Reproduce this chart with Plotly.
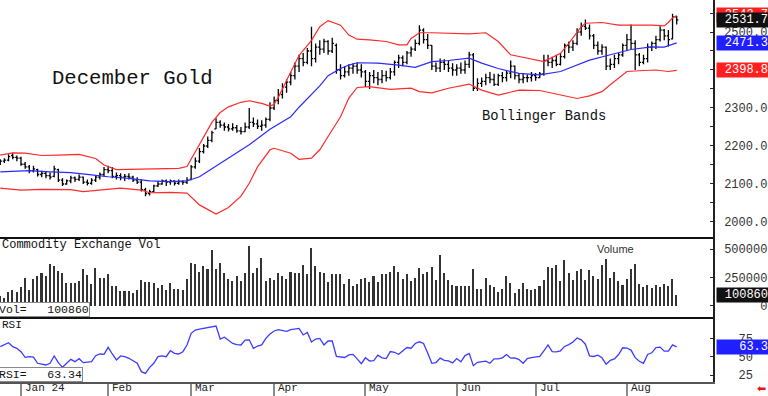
import pandas as pd
import plotly.graph_objects as go
from plotly.subplots import make_subplots

# ---------------- data ----------------
holidays = ["2023-12-25", "2024-01-01", "2024-01-15", "2024-02-19",
            "2024-03-29", "2024-05-27", "2024-06-19", "2024-07-04"]
start_date = "2023-12-22"
end_date = "2024-08-19"

month_names = {1: "Jan 24", 2: "Feb", 3: "Mar", 4: "Apr", 5: "May",
               6: "Jun", 7: "Jul", 8: "Aug"}

opens = [2155, 2160, 2163, 2175, 2170, 2168, 2152, 2145, 2135, 2138,
         2125, 2128, 2122, 2120, 2138, 2110, 2100, 2108, 2116, 2112,
         2118, 2105, 2102, 2110, 2118, 2125, 2138, 2135, 2120, 2122,
         2118, 2120, 2118, 2110, 2105, 2085, 2075, 2080, 2095, 2100,
         2108, 2105, 2108, 2102, 2106, 2104, 2112, 2145, 2160, 2185,
         2200, 2215, 2245, 2262, 2255, 2250, 2245, 2248, 2240, 2238,
         2250, 2262, 2258, 2252, 2255, 2270, 2300, 2320, 2335, 2355,
         2368, 2385, 2410, 2430, 2420, 2450, 2430, 2460, 2455, 2475,
         2450, 2465, 2400, 2385, 2395, 2405, 2410, 2400, 2395, 2370,
         2385, 2380, 2375, 2385, 2380, 2395, 2420, 2432, 2420, 2445,
         2455, 2470, 2505, 2480, 2465, 2410, 2405, 2420, 2415, 2405,
         2400, 2405, 2400, 2415, 2440, 2352, 2365, 2370, 2380, 2375,
         2362, 2385, 2380, 2392, 2410, 2385, 2375, 2380, 2380, 2385,
         2380, 2390, 2425, 2420, 2425, 2415, 2435, 2465, 2460, 2470,
         2500, 2515, 2510, 2490, 2465, 2450, 2460, 2410, 2415, 2430,
         2440, 2465, 2480, 2470, 2440, 2420, 2430, 2460, 2470, 2480,
         2505, 2490, 2482, 2540]
highs = [2165, 2168, 2178, 2182, 2175, 2172, 2158, 2150, 2148, 2140,
         2135, 2132, 2130, 2148, 2140, 2115, 2112, 2122, 2120, 2125,
         2120, 2112, 2115, 2122, 2130, 2145, 2148, 2145, 2130, 2128,
         2126, 2128, 2122, 2118, 2112, 2090, 2085, 2098, 2108, 2112,
         2112, 2112, 2110, 2112, 2110, 2118, 2150, 2170, 2195, 2205,
         2225, 2240, 2273, 2268, 2262, 2258, 2260, 2255, 2250, 2262,
         2300, 2275, 2270, 2268, 2275, 2315, 2330, 2350, 2365, 2375,
         2395, 2420, 2440, 2445, 2458, 2514, 2470, 2478, 2482, 2478,
         2485, 2470, 2415, 2410, 2415, 2418, 2420, 2415, 2400, 2395,
         2400, 2395, 2400, 2398, 2405, 2425, 2440, 2438, 2450, 2462,
         2480, 2518, 2510, 2495, 2465, 2420, 2430, 2428, 2425, 2418,
         2415, 2420, 2425, 2448, 2445, 2378, 2380, 2390, 2395, 2390,
         2390, 2395, 2400, 2425, 2412, 2392, 2390, 2388, 2395, 2392,
         2395, 2440, 2440, 2435, 2440, 2445, 2470, 2475, 2478, 2510,
         2525, 2533, 2520, 2495, 2475, 2468, 2462, 2430, 2440, 2445,
         2470, 2495, 2520, 2478, 2445, 2440, 2470, 2475, 2490, 2515,
         2508, 2505, 2548, 2542]
lows = [2150, 2155, 2160, 2165, 2160, 2148, 2140, 2128, 2130, 2120,
        2118, 2115, 2112, 2118, 2105, 2095, 2098, 2102, 2105, 2108,
        2100, 2096, 2098, 2105, 2112, 2120, 2128, 2115, 2112, 2110,
        2108, 2112, 2105, 2100, 2080, 2068, 2070, 2078, 2092, 2098,
        2095, 2098, 2096, 2098, 2098, 2100, 2110, 2140, 2155, 2180,
        2195, 2210, 2245, 2248, 2240, 2238, 2240, 2235, 2230, 2236,
        2245, 2250, 2245, 2240, 2248, 2265, 2295, 2310, 2325, 2340,
        2360, 2375, 2395, 2410, 2415, 2410, 2420, 2440, 2445, 2440,
        2445, 2390, 2375, 2380, 2385, 2390, 2390, 2380, 2355, 2350,
        2365, 2360, 2365, 2370, 2375, 2385, 2405, 2410, 2415, 2435,
        2450, 2465, 2470, 2455, 2400, 2395, 2395, 2400, 2395, 2385,
        2385, 2390, 2390, 2405, 2345, 2345, 2355, 2360, 2365, 2358,
        2358, 2368, 2370, 2378, 2375, 2365, 2365, 2368, 2370, 2372,
        2378, 2385, 2410, 2405, 2410, 2412, 2430, 2445, 2450, 2465,
        2490, 2505, 2480, 2455, 2440, 2440, 2400, 2400, 2405, 2415,
        2435, 2450, 2455, 2400, 2410, 2415, 2420, 2450, 2455, 2475,
        2478, 2462, 2480, 2520]
closes = [2160, 2163, 2172, 2170, 2168, 2152, 2145, 2135, 2140, 2125,
          2128, 2122, 2118, 2140, 2110, 2100, 2108, 2116, 2112, 2118,
          2105, 2102, 2110, 2118, 2125, 2138, 2135, 2120, 2122, 2118,
          2120, 2118, 2110, 2105, 2085, 2075, 2080, 2095, 2100, 2108,
          2105, 2108, 2102, 2106, 2104, 2110, 2145, 2160, 2185, 2200,
          2215, 2235, 2262, 2255, 2250, 2245, 2248, 2240, 2238, 2250,
          2262, 2258, 2252, 2255, 2270, 2300, 2320, 2335, 2355, 2368,
          2385, 2410, 2430, 2420, 2450, 2430, 2460, 2455, 2475, 2450,
          2470, 2400, 2385, 2395, 2405, 2410, 2400, 2395, 2370, 2385,
          2380, 2375, 2385, 2380, 2395, 2420, 2432, 2420, 2445, 2455,
          2470, 2505, 2480, 2465, 2410, 2405, 2420, 2415, 2405, 2400,
          2405, 2400, 2415, 2440, 2352, 2365, 2370, 2380, 2375, 2362,
          2385, 2380, 2392, 2410, 2385, 2375, 2380, 2380, 2385, 2380,
          2390, 2425, 2420, 2425, 2415, 2435, 2465, 2460, 2470, 2500,
          2515, 2510, 2490, 2465, 2450, 2460, 2410, 2415, 2430, 2440,
          2465, 2480, 2470, 2440, 2420, 2430, 2460, 2470, 2480, 2505,
          2490, 2480, 2540, 2531.7]

# Bollinger bands (20-day), read at sample bars
upper_bar = [0, 3, 6, 10, 14, 19, 23, 25, 28, 34, 43, 45, 46, 48, 51, 53, 55, 58,
             60, 63, 65, 66, 67, 70, 72, 75, 77, 79, 82, 84, 86, 89, 93, 96, 98,
             99, 101, 104, 108, 113, 117, 120, 123, 127, 131, 135, 137, 140, 141,
             145, 149, 152, 157, 160, 161, 162, 163]
upper_val = [2176, 2182, 2181, 2175, 2176, 2178, 2167, 2150, 2138, 2139, 2141,
             2146, 2165, 2205, 2262, 2288, 2303, 2315, 2319, 2312, 2305, 2310,
             2328, 2395, 2438, 2478, 2514, 2530, 2518, 2492, 2481, 2479, 2475,
             2466, 2466, 2483, 2498, 2498, 2496, 2495, 2498, 2475, 2440, 2431,
             2422, 2444, 2470, 2514, 2523, 2525, 2518, 2518, 2518, 2516, 2525,
             2537, 2543.7]
mid_bar = [0, 7, 12, 17, 22, 26, 31, 36, 41, 45, 48, 53, 55, 58, 60, 65, 70, 72,
           77, 79, 82, 84, 86, 91, 96, 100, 104, 108, 113, 116, 120, 125, 130,
           135, 138, 142, 147, 152, 157, 160, 163]
mid_val = [2132, 2135, 2132, 2130, 2124, 2119, 2115, 2108, 2106, 2108, 2119,
           2154, 2170, 2190, 2203, 2244, 2277, 2302, 2358, 2385, 2404, 2413,
           2419, 2418, 2413, 2407, 2422, 2425, 2431, 2418, 2404, 2391, 2387,
           2396, 2409, 2426, 2440, 2454, 2461, 2460, 2471.3]
lower_bar = [0, 5, 10, 17, 20, 24, 29, 34, 36, 41, 45, 48, 52, 55, 58, 60, 62,
             65, 66, 70, 72, 75, 77, 79, 82, 84, 86, 89, 94, 99, 101, 104, 108,
             113, 116, 120, 125, 130, 135, 139, 142, 145, 147, 151, 154, 158,
             161, 163]
lower_val = [2089, 2084, 2086, 2085, 2080, 2084, 2089, 2084, 2077, 2078, 2076,
             2045, 2021, 2038, 2068, 2102, 2145, 2190, 2194, 2181, 2165, 2168,
             2190, 2225, 2277, 2326, 2354, 2356, 2349, 2352, 2343, 2340, 2352,
             2363, 2347, 2334, 2347, 2346, 2334, 2325, 2332, 2343, 2361, 2396,
             2398, 2400, 2396, 2398.8]

volume_k = [90, 70, 126, 140, 126, 164, 243, 140, 234, 263,
            287, 263, 374, 351, 310, 287, 205, 205, 205, 222,
            322, 272, 193, 339, 243, 243, 281, 175, 175, 132,
            132, 135, 117, 140, 228, 213, 213, 205, 155, 184,
            140, 205, 146, 146,
            140, 234, 380, 374, 301, 351, 330, 497, 322, 380,
            295, 234, 217, 263, 217, 287, 526, 290, 333, 427,
            222, 251, 225, 287, 263, 240, 304, 290, 287, 363,
            281, 509, 351, 301, 287, 211, 281, 278, 281, 193,
            234, 175, 193, 240, 243, 211, 260, 211, 281, 284,
            298, 354, 298, 234, 278, 217, 249, 333, 278, 304,
            345, 225, 450, 290, 225, 187, 175, 172, 172, 172,
            322, 146, 146, 249, 187, 170, 123, 152, 260, 199,
            117, 149, 199, 146, 140, 152, 175, 225, 345, 339,
            363, 217, 404, 290, 225, 307, 325, 225, 313, 263,
            240, 363, 418, 249, 298, 217, 187, 234, 330, 368,
            193, 170, 181, 158, 181, 170, 193, 175, 234, 100.86]

rsi = [63.7, 65.9, 69.1, 63.7, 61.4, 56.8, 49.1, 50, 49.5, 41,
       39.6, 38.7, 41, 51, 41.9, 35.5, 41, 46.4, 43.2, 47.3,
       41.9, 42.8, 43.2, 51.4, 53.7, 53.2, 62.8, 53.7, 45.5, 51,
       50, 47.8, 44.6, 41, 29.6, 27.3, 35.5, 41, 50, 51,
       50, 58.2, 54.6, 53.7, 56.8, 65.9, 81.8, 86.4, 87.5, 88.6,
       90, 91, 91.8, 74.1, 76.5, 72.5, 68, 66.5, 66, 72.7,
       73, 61.4, 64.5, 66, 75, 81, 85, 87, 86, 84.5,
       86.8, 87.5, 88.6, 79.6, 83, 70, 74, 75, 66, 71.4,
       71.4, 50.5, 49.5, 48.9, 52.5, 53.2, 47, 40.5, 48.5, 44.1,
       44.5, 52, 48.5, 47.5, 57, 56, 53.2, 57.5, 62.5, 61.5,
       68, 70.3, 68, 55, 41, 42, 48, 45, 44.2, 41.5,
       47.5, 43, 51.5, 54.5, 37.8, 42.3, 43, 44, 41, 47,
       47, 48.5, 53, 48, 48.5, 46, 41, 47.5, 48.7, 50,
       50.3, 58, 66, 57, 56.5, 58, 64, 66.5, 70, 75.5,
       73, 67, 51, 50.3, 52, 48.5, 39.6, 45, 46.9, 53,
       62.2, 61.8, 59, 48.7, 43.8, 41, 53, 55.3, 62.5, 63,
       57.5, 57.6, 66, 63.34]

price_ticks = [2000, 2100, 2200, 2300, 2400, 2500]
volume_ticks = [0, 250000, 500000]
rsi_ticks = [25, 50, 75]

# ---------------- build ----------------
cbd = pd.offsets.CustomBusinessDay(holidays=holidays)
dates = pd.date_range(start_date, end_date, freq=cbd)
n = len(closes)
idx = list(range(n))
volume = [v * 1000 for v in volume_k]

month_start = [i for i in range(1, len(dates)) if dates[i].month != dates[i - 1].month]
month_text = [month_names[dates[i].month] for i in month_start]

MONO = "Liberation Mono"
H_PLOT = 382.0
W_PLOT = 713.0

fig = make_subplots(rows=3, cols=1, shared_xaxes=True, vertical_spacing=0,
                    row_heights=[237, 80, 65])

fig.add_trace(go.Scatter(x=upper_bar, y=upper_val, mode="lines",
                         line=dict(color="#ff2a2a", width=1.2), hoverinfo="skip"), row=1, col=1)
fig.add_trace(go.Scatter(x=lower_bar, y=lower_val, mode="lines",
                         line=dict(color="#ff2a2a", width=1.2), hoverinfo="skip"), row=1, col=1)
fig.add_trace(go.Scatter(x=mid_bar, y=mid_val, mode="lines",
                         line=dict(color="#2a2aff", width=1.2), hoverinfo="skip"), row=1, col=1)
fig.add_trace(go.Ohlc(x=idx, open=opens, high=highs, low=lows, close=closes,
                      increasing=dict(line=dict(color="#000000", width=1.3)),
                      decreasing=dict(line=dict(color="#000000", width=1.3)),
                      tickwidth=0.4, hoverinfo="skip"), row=1, col=1)

fig.add_trace(go.Bar(x=idx, y=volume, marker=dict(color="#333333", line=dict(width=0)),
                     width=0.38, hoverinfo="skip"), row=2, col=1)

fig.add_hline(y=75, line=dict(color="#f6b3b3", width=1), row=3, col=1)
fig.add_hline(y=50, line=dict(color="#d4d4d4", width=2), row=3, col=1)
fig.add_hline(y=25, line=dict(color="#c6c6ff", width=1.5), row=3, col=1)
fig.add_trace(go.Scatter(x=idx, y=rsi, mode="lines",
                         line=dict(color="#3c3cff", width=1.3), hoverinfo="skip"), row=3, col=1)

fig.update_xaxes(range=[-0.06, 171.75], showgrid=False, zeroline=False,
                 showticklabels=False, showline=True, linecolor="#111111",
                 linewidth=2, rangeslider_visible=False, ticks="")
fig.update_xaxes(row=3, col=1, ticks="outside", tickvals=month_start,
                 ticklen=14, tickwidth=2, tickcolor="#8a8a8a", linecolor="#555555")

axis_common = dict(side="right", showgrid=False, zeroline=False, showline=True,
                   linecolor="#222222", linewidth=1.5, ticks="inside", ticklen=3,
                   tickcolor="#222222", ticklabelstandoff=7,
                   tickfont=dict(family=MONO, size=12, color="#333333"))
fig.update_yaxes(row=1, col=1, range=[1960.5, 2584.2], tickvals=price_ticks,
                 ticktext=[f"{v:.1f}" for v in price_ticks],
                 minor=dict(ticks="inside", ticklen=3, dtick=50, tick0=0,
                            tickcolor="#222222"), **axis_common)
fig.update_yaxes(row=2, col=1, range=[-97000, 608000], tickvals=volume_ticks,
                 ticktext=[str(v).rjust(6, "\u00a0") for v in volume_ticks], **axis_common)
fig.update_yaxes(row=3, col=1, range=[15.5, 104.1], tickvals=rsi_ticks,
                 ticktext=[("\u00a0\u00a0" + str(v)) for v in rsi_ticks], **axis_common)

def py(ypx):
    return 1 - ypx / H_PLOT

def px_(xpx):
    return xpx / W_PLOT

ann = []
# value boxes at right
def value_box(val, yref, text, bg):
    ann.append(dict(xref="paper", x=1, xanchor="left", xshift=3, yref=yref, y=val,
                    yanchor="middle", text=text, showarrow=False, bgcolor=bg,
                    font=dict(family=MONO, size=12, color="white"), width=50,
                    height=12, align="right", borderpad=1))

value_box(upper_val[-1], "y", f"{upper_val[-1]:.1f}", "#ff1f1f")
value_box(closes[-1], "y", f"{closes[-1]:.1f}", "#111111")
value_box(mid_val[-1], "y", f"{mid_val[-1]:.1f}", "#2020ff")
value_box(lower_val[-1], "y", f"{lower_val[-1]:.1f}", "#ff1f1f")
value_box(volume[-1], "y2", f"{volume[-1]:.0f}", "#111111")
value_box(rsi[-1], "y3", f"{rsi[-1]:.1f}", "#2020ff")

def label(x, y, text, size, family=MONO, color="#111111", xanchor="center"):
    ann.append(dict(xref="paper", yref="paper", x=x, y=y, xanchor=xanchor,
                    yanchor="middle", text=text, showarrow=False,
                    font=dict(family=family, size=size, color=color)))

label(px_(132.5), py(78.5), "December Gold", 20.6)
label(px_(544), py(116), "Bollinger Bands", 13.8)
label(0, py(245), "Commodity Exchange Vol", 12, xanchor="left")
label(px_(615), py(249), "Volume", 11, family="Liberation Sans", color="#333333")
label(0, py(325), "RSI", 11, xanchor="left")

ann.append(dict(xref="paper", yref="paper", x=0, xanchor="left", xshift=-2, y=py(316.5),
                yanchor="bottom", text="Vol=\u00a0\u00a0\u00a0" + f"{volume[-1]:.0f}",
                showarrow=False, bgcolor="white", bordercolor="#8a8a8a", borderwidth=1,
                borderpad=0, font=dict(family=MONO, size=11.5, color="#111111")))
ann.append(dict(xref="paper", yref="paper", x=0, xanchor="left", xshift=-2, y=py(381.5),
                yanchor="bottom", text="RSI=\u00a0\u00a0\u00a0" + f"{rsi[-1]:.2f}",
                showarrow=False, bgcolor="white", bordercolor="#8a8a8a", borderwidth=1,
                borderpad=0, font=dict(family=MONO, size=11.5, color="#111111")))
for i, t in zip(month_start, month_text):
    ann.append(dict(xref="x3", x=i, xanchor="left", xshift=2, yref="paper", y=py(388.5),
                    yanchor="middle", text=t, showarrow=False,
                    font=dict(family=MONO, size=11, color="#222222")))
label(px_(761.5), py(388), "\u2b05", 11, family="DejaVu Sans", color="#ee1111")

fig.update_layout(width=768, height=396, margin=dict(l=0, r=55, t=0, b=14),
                  paper_bgcolor="white", plot_bgcolor="white", showlegend=False,
                  annotations=ann, bargap=0)

fig.write_html("out.html", config={"displayModeBar": False},
               post_script="document.body.style.margin='0px';document.body.style.padding='0px';")
